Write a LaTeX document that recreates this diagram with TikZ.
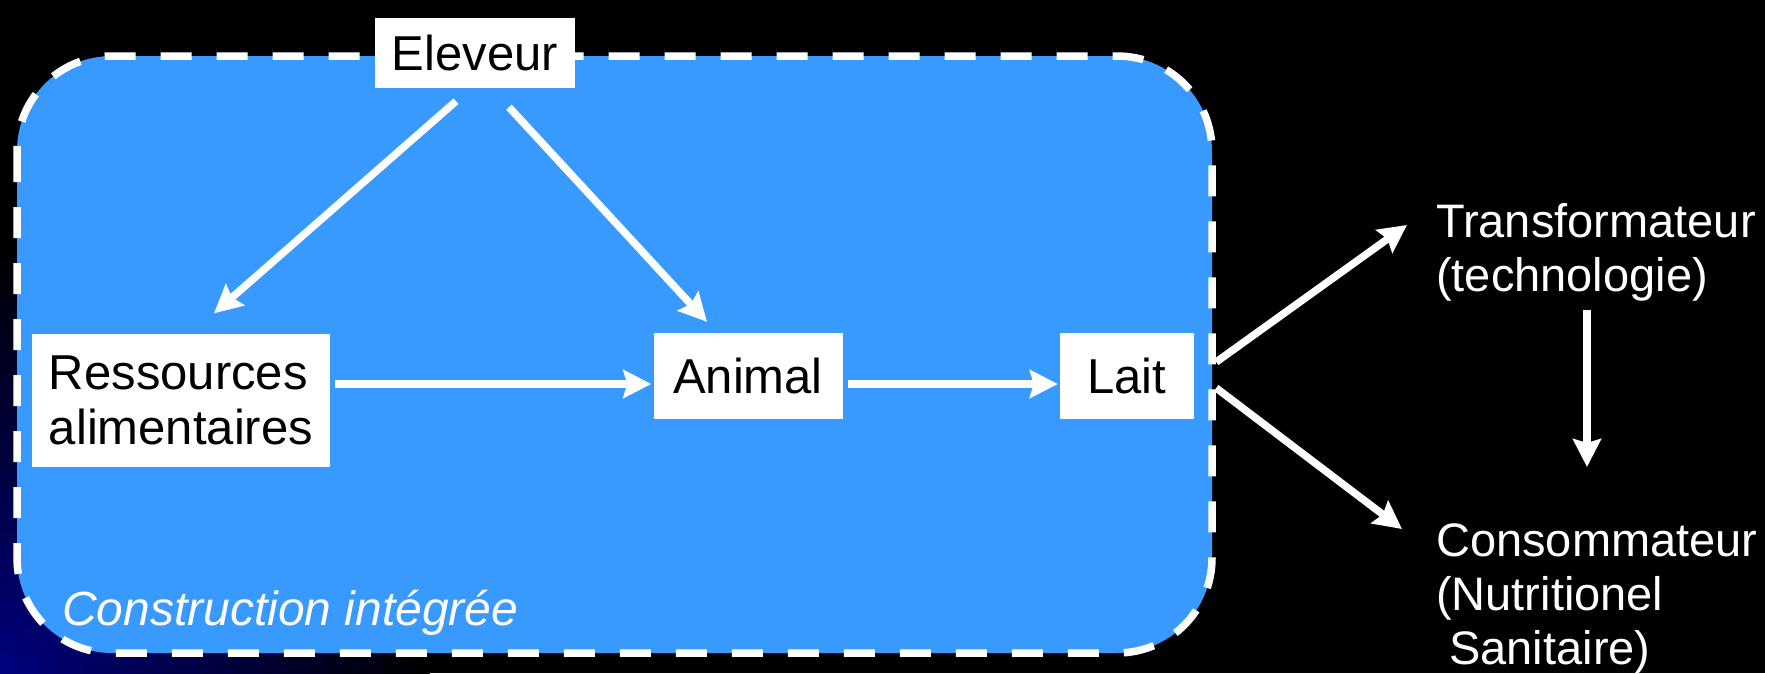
\documentclass[tikz,border=0pt]{standalone}
\usepackage{fontspec}
\setmainfont{Liberation Sans}
\usetikzlibrary{arrows.meta,calc}
\definecolor{panelblue}{RGB}{56,153,255}
\definecolor{deepnavy}{RGB}{0,0,125}
\begin{document}
\begin{tikzpicture}[x=1pt,y=-1pt,
  every node/.style={font=\fontsize{49}{55}\selectfont},
  whitebox/.style={fill=white,text=black,inner sep=0pt},
  plainlabel/.style={text=white,inner sep=0pt,anchor=west,align=left},
  sidelabel/.style={plainlabel,font=\fontsize{47}{54}\selectfont},
  arr/.style={draw=white,line width=7.5pt,-{Stealth[length=28pt,width=28pt,inset=4pt]}},
  frame/.style={draw=white,line width=7.5pt,dash pattern=on 31pt off 25pt,
    fill=panelblue,rounded corners=95pt}]
  % background
  \fill[black] (0,0) rectangle (1765,673);
  \begin{scope}
    \clip (0,0) rectangle (1765,673);
    \shade[inner color=deepnavy,outer color=black] (0,673) circle (430);
  \end{scope}
  \useasboundingbox (0,0) rectangle (1765,673);

  % integrated construction panel
  \path[frame] (17,56) rectangle (1212,653);

  % boxes
  \node[whitebox,minimum width=200pt,minimum height=70pt] (el) at (475,53) {Eleveur};
  \node[whitebox,minimum width=298pt,minimum height=133pt,align=left] (res) at (181,400)
    {Ressources\\alimentaires};
  \node[whitebox,minimum width=189pt,minimum height=86pt] (an) at (748,376) {Animal};
  \node[whitebox,minimum width=134pt,minimum height=86pt] (lait) at (1127,376) {Lait};

  % labels outside the panel
  \node[sidelabel] (tr) at (1436,252) {Transformateur\\(technologie)};
  \node[sidelabel] (co) at (1436,599) {Consommateur\\(Nutritionel\\\hspace*{.28em}Sanitaire)};
  \node[plainlabel,font=\fontsize{48}{54}\selectfont\itshape] (ci) at (62,613) {Construction intégrée};

  % connectors
  \draw[arr] ([xshift=-19pt,yshift=-13pt]el.south) -- ([xshift=33pt,yshift=20pt]res.north);
  \draw[arr] ([xshift=34pt,yshift=-19pt]el.south) -- ([xshift=-41pt,yshift=11pt]an.north);
  \draw[arr] ([xshift=5pt,yshift=16pt]res.east) -- ([xshift=-2pt,yshift=-8pt]an.west);
  \draw[arr] ([xshift=5pt,yshift=-8pt]an.east) -- ([xshift=-2pt,yshift=-8pt]lait.west);
  \draw[arr] ([xshift=22pt,yshift=14pt]lait.east) -- ([xshift=-29pt,yshift=27pt]tr.west);
  \draw[arr] ([xshift=22pt,yshift=-12pt]lait.east) -- ([xshift=-34pt,yshift=70pt]co.west);
  \draw[arr] ([xshift=151pt,yshift=-58pt]tr.west) -- ([xshift=151pt,yshift=132pt]co.west);
\end{tikzpicture}
\end{document}
